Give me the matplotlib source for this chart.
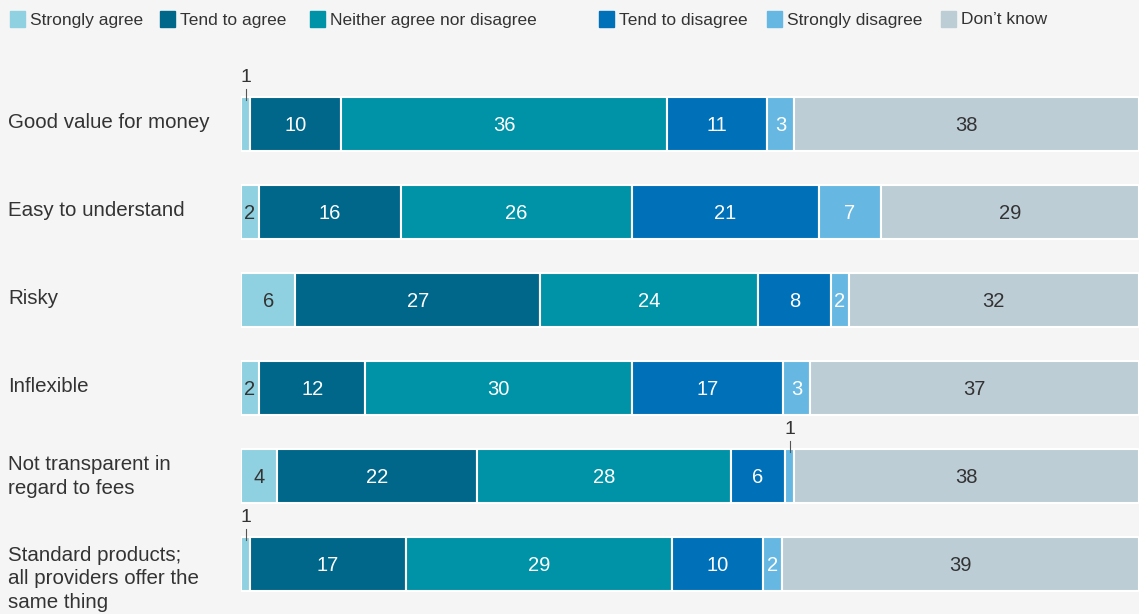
import matplotlib

matplotlib.use("Agg")
import matplotlib.pyplot as plt  # noqa: E402
from matplotlib.patches import Rectangle  # noqa: E402

# ---------- data -----------------------------------------------------------

categories = ["Strongly agree", "Tend to agree", "Neither agree nor disagree",
              "Tend to disagree", "Strongly disagree", "Don\u2019t know"]
statements = ["Good value for money", "Easy to understand", "Risky",
              "Inflexible", "Not transparent in\nregard to fees",
              "Standard products;\nall providers offer the\nsame thing"]
strongly_agree = [1, 2, 6, 2, 4, 1]
tend_agree = [10, 16, 27, 12, 22, 17]
neither = [36, 26, 24, 30, 28, 29]
tend_disagree = [11, 21, 8, 17, 6, 10]
strongly_disagree = [3, 7, 2, 3, 1, 2]
dont_know = [38, 29, 32, 37, 38, 39]

series = [strongly_agree, tend_agree, neither, tend_disagree,
          strongly_disagree, dont_know]
colors = ["#8fd1e0", "#00678a", "#0093a8", "#0070b8", "#66b8e3", "#bdcdd6"]
text_colors = ["#333333", "white", "white", "white", "white", "#333333"]

BG = "#f5f5f5"
DARK = "#333333"
plt.rcParams["font.family"] = ["Liberation Sans", "DejaVu Sans"]

W, H = 1139, 614
fig = plt.figure(figsize=(W / 100, H / 100), dpi=100, facecolor=BG)

# axes spanning the full height; rows 88 px apart, first centred at y=124 px
ax = fig.add_axes([241 / W, 0, 898 / W, 1])
ax.set_facecolor(BG)
ax.set_ylim((H - 124) / 88, -124 / 88)
ax.set_xlim(0, 1)
ax.axis("off")

bar_h = 54 / 88
for i, name in enumerate(statements):
    vals = [s[i] for s in series]
    total = sum(vals)
    left = 0.0
    for j, v in enumerate(vals):
        w = v / total
        ax.barh(i, w, left=left, height=bar_h, color=colors[j],
                edgecolor="white", linewidth=1.5)
        cx = left + w / 2
        if v <= 1:
            ax.plot([cx, cx], [i - bar_h / 2 - 0.09, i - bar_h / 2 + 0.03],
                    color="#555555", linewidth=0.8)
            ax.text(cx, i - bar_h / 2 - 0.12, str(v), ha="center",
                    va="bottom", fontsize=14, color=DARK)
        else:
            ax.text(cx, i + 0.02, str(v), ha="center", va="center",
                    fontsize=14.5, color=text_colors[j])
        left += w

    # row label at the left
    n_lines = name.count("\n") + 1
    if n_lines == 1:
        y_lab = i - 0.02
    elif n_lines == 2:
        y_lab = i + 0.01
    else:
        y_lab = i + 0.17
    ax.text(-233 / 898, y_lab, name, ha="left", va="center", fontsize=14.8,
            color=DARK, linespacing=1.32, clip_on=False)

# ---------- legend ---------------------------------------------------------

sq_x = [10, 160, 310, 599, 767, 941]
for x, lab, c in zip(sq_x, categories, colors):
    fig.patches.append(Rectangle((x / W, 1 - 27 / H), 15 / W, 16 / H,
                                 transform=fig.transFigure, color=c))
    fig.text((x + 20) / W, 1 - 20 / H, lab, ha="left", va="center",
             fontsize=12.5, color=DARK)

fig.savefig("out.png", dpi=100, facecolor=BG)
